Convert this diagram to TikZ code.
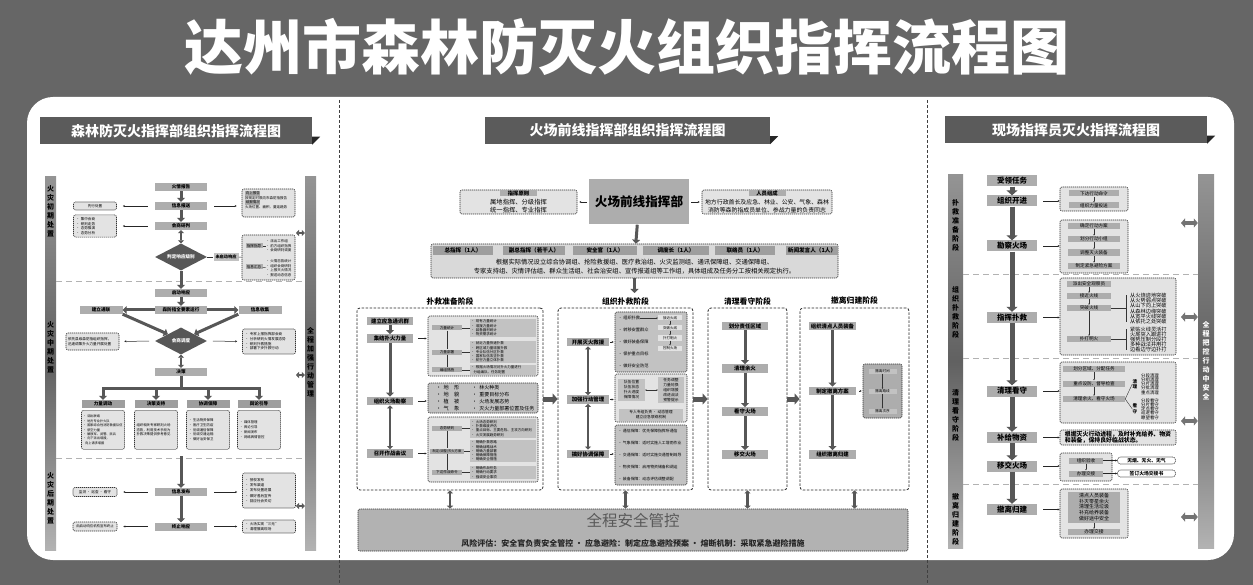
\documentclass[tikz,border=0pt]{standalone}
\usepackage{fontspec}
\setmainfont{Noto Sans CJK SC}
\usetikzlibrary{arrows.meta,shapes.geometric,positioning}
\newcommand{\fsz}[2]{\fontsize{#1}{#2}\selectfont}
\setlength{\fboxsep}{0.6pt}
\definecolor{bgdark}{HTML}{666666}
\definecolor{banner}{HTML}{5B5B5B}
\definecolor{boxgray}{HTML}{ADADAD}
\definecolor{darkbox}{HTML}{575757}
\definecolor{paleb}{HTML}{E3E3E3}
\definecolor{midb}{HTML}{C2C2C2}
\definecolor{arrowc}{HTML}{575757}

\begin{document}
\begin{tikzpicture}[x=1pt, y=-1pt,
  every node/.style={inner sep=0pt, align=center},
  band/.style={fill=banner, text=white, font=\fsz{14}{14}\bfseries, minimum height=27},
  vbar/.style={top color=black!42, bottom color=black!30, middle color=black!62},
  vtext/.style={font=\fsz{7}{9}\bfseries, text width=8},
  stepbox/.style={fill=boxgray, font=\fsz{4.6}{5}\bfseries, minimum width=52, minimum height=8},
  phasebox/.style={fill=boxgray, font=\fsz{5.4}{6}\bfseries, minimum width=46, minimum height=8.5},
  bigstep/.style={fill=boxgray, font=\fsz{7.5}{8}\bfseries, minimum width=50, minimum height=11},
  choice/.style={diamond, aspect=2, fill=darkbox, text=white, font=\fsz{4.6}{5}\bfseries, minimum width=52, minimum height=27},
  notebox/.style={draw=black!80, dash pattern=on 1.2pt off 0.8pt, line width=0.6, rounded corners=2, fill=paleb},
  stageframe/.style={draw=black!85, dash pattern=on 2.5pt off 1.5pt, line width=0.8, rounded corners=3},
  tag/.style={fill=boxgray, font=\fsz{3.6}{4}, minimum height=5},
  items/.style={fill=midb, font=\fsz{3.5}{4.3}, align=left, inner sep=1},
  lst/.style={font=\fsz{3.5}{4.6}, align=left},
  divider/.style={draw=black!30, dash pattern=on 6pt off 4pt, line width=1},
  fat/.style={draw=arrowc, line width=3, -{Triangle[length=4pt,width=8pt]}},
  bigfat/.style={draw=arrowc, line width=5, -{Triangle[length=5pt,width=11pt]}},
  duo/.style={draw=arrowc, line width=2.2, {Triangle[length=3pt,width=6pt]}-{Triangle[length=3pt,width=6pt]}},
  pointer/.style={draw=black!85, line width=0.5, -{Stealth[length=2pt,width=2pt]}},
  mini/.style={draw=black!80, line width=0.35, -{Stealth[length=1.4pt,width=1.4pt]}},
  link/.style={draw=black!80, line width=0.4}]
  \useasboundingbox (0,0) rectangle (1253,585);
  \fill[bgdark] (0,0) rectangle (1253,585);
  \fill[white, rounded corners=26] (27,97) rectangle (1234,560);
  \node[text=white, font=\fsz{59}{60}\bfseries] (title) at (627,47) {达州市森林防灭火组织指挥流程图};
  \draw[black!75, dash pattern=on 3pt off 2pt, line width=0.8] (339,100) -- (339,585);
  \draw[black!75, dash pattern=on 3pt off 2pt, line width=0.8] (927,100) -- (927,585);

  % left panel
  \node[band, minimum width=272] (hl) at (176,131) {森林防灭火指挥部组织指挥流程图};
  \fill[black!85] (hl.south east) -- ++(0,-8) -- ++(8,0) -- cycle;
  \node[vbar, minimum width=11, minimum height=373] (lbl) at (50.5,363.5) {};
  \node[vbar, minimum width=11, minimum height=373] (lbr) at (310.5,363.5) {};
  \node[vtext] (lt1) at (lbl |- 0,211) {火\\灾\\初\\期\\处\\置};
  \node[vtext] (lt2) at (lbl |- 0,347) {火\\灾\\中\\期\\处\\置};
  \node[vtext] (lt3) at (lbl |- 0,498) {火\\灾\\后\\期\\处\\置};
  \node[vtext] (lt4) at (lbr |- 0,362) {全\\程\\加\\强\\行\\动\\管\\理};
  \draw[divider] (lbl.east |- 0,282) -- (lbr.west |- 0,282);
  \draw[divider] (lbl.east |- 0,458) -- (lbr.west |- 0,458);

  \node[stepbox] (hqbg) at (181,187) {火情报告};
  \node[stepbox] (xxbs) at (181,206) {信息报送};
  \node[stepbox] (hsyp) at (181,226) {会商研判};
  \node[choice] (pdjb) at (181,257) {判定响应级别};
  \node[stepbox, fill=midb, minimum width=25, font=\fsz{4.2}{5}\bfseries] (wqd) at (226,257) {未启动响应};
  \draw[fat] (hqbg) -- (xxbs);
  \draw[fat] (xxbs) -- (hsyp);
  \draw[duo] (hsyp) -- (pdjb);
  \draw[link] (pdjb) -- (wqd);
  \node[notebox, minimum width=43, minimum height=8, font=\fsz{3.6}{4}] (xxcz) at (95,206) {先行处置};
  \node[notebox, text width=38, inner sep=2.5, minimum height=22, font=\fsz{3.6}{4.6}, align=left] (jzhs) at (95,226) {• 集中会商\\• 研判走势\\• 态势推演\\• 态势分析};
  \draw[pointer, shorten <=7, shorten >=6] (xxbs) -- (xxcz);
  \draw[pointer, shorten <=7, shorten >=6] (hsyp) -- (jzhs);
  \node[notebox, minimum width=53, minimum height=28] (sbbg) at (268.5,203) {};
  \node[lst, anchor=north west] (sbtx) at (245,191) {\colorbox{boxgray}{向上报告}\\按规定时限向市森防指报告\\\colorbox{boxgray}{续报情况}\\火场位置、面积、蔓延趋势};
  \draw[pointer, shorten <=7, shorten >=5] (xxbs.east) -- (xxbs.east -| sbbg.west);
  \node[notebox, minimum width=53, minimum height=45] (zdxx) at (268.5,257.5) {};
  \node[tag, minimum width=17] (zdt1) at (254,246) {指挥指导};
  \node[tag, minimum width=17] (zdt2) at (254,267) {信息汇总};
  \node[lst, anchor=west] (zdl1) at (266,246) {• 派出工作组\\• 前方组织指挥\\• 会商研判调度};
  \node[lst, anchor=west] (zdl2) at (266,268) {• 火情态势统计\\• 组织会商研判\\• 上报灭火情况\\• 报送动态信息};
  \draw[link] (zdt1) -- (zdl1);
  \draw[link] (zdt2) -- (zdl2);
  \draw[link] (wqd) -- (zdxx);

  \node[stepbox] (qdxy) at (181,293) {启动响应};
  \node[stepbox] (qysx) at (181,310) {森防指全要素运行};
  \node[stepbox, minimum width=43] (jltl) at (101,310) {建立通联};
  \node[stepbox, minimum width=43] (xxsj) at (260,310) {信息收集};
  \node[choice] (hsdd) at (181,341) {会商调度};
  \node[stepbox] (juece) at (181,372) {决策};
  \draw[fat] (pdjb) -- (qdxy);
  \draw[fat] (qdxy) -- (qysx);
  \draw[fat] (qysx) -- (jltl);
  \draw[fat] (qysx) -- (xxsj);
  \draw[fat] (jltl.south east) -- (hsdd.north west);
  \draw[fat] (xxsj.south west) -- (hsdd.north east);
  \draw[duo] (hsdd) -- (juece);
  \node[notebox, text width=49, inner sep=2, minimum height=17, font=\fsz{3.6}{4.6}, align=left] (ytxj) at (92.5,341.5) {依托县级森防指组织指挥，\\迅速调集扑火力量开展处置};
  \node[notebox, text width=48, inner sep=2.5, minimum height=25, font=\fsz{3.6}{4.6}, align=left] (fxyp) at (269,341.5) {• 专家上报指挥部会商\\• 分析研判火情发展态势\\• 研判扑救措施\\• 部署下步扑救行动};
  \draw[pointer, shorten <=6, shorten >=5] (hsdd) -- (ytxj);
  \draw[pointer, shorten <=6, shorten >=5] (hsdd) -- (fxyp);

  \coordinate (fz) at (181,388);
  \node[stepbox, minimum width=43, fill=black!38] (lldd) at (103,404) {力量调动};
  \node[stepbox, minimum width=43, fill=black!38] (jczc) at (156,404) {决策支持};
  \node[stepbox, minimum width=43, fill=black!38] (xtbz) at (208,404) {协调保障};
  \node[stepbox, minimum width=43, fill=black!38] (yldx) at (259,404) {舆论引导};
  \draw[arrowc, line width=3] (juece) -- (fz);
  \draw[arrowc, line width=3, line cap=rect] (fz -| lldd) -- (fz -| yldx);
  \foreach \n in {lldd,jczc,xtbz,yldx} \draw[fat] (fz -| \n) -- (\n);
  \node[notebox, text width=40, inner sep=1.5, minimum height=39, anchor=north, font=\fsz{3.2}{4.4}, align=left] (llnt) at (103,410) {• 调出联络\\• 地方专业扑火队\\• 国家综合性消防救援队伍\\• 航空力量\\• 解放军、武警、民兵\\• 向下派出增援，\\\ \ 向上请求增援};
  \node[notebox, text width=39, inner sep=2, minimum height=39, anchor=north, font=\fsz{3.4}{4.8}, align=left] (jcnt) at (156,410) {组织相关专家研判火场\\态势，利用技术手段为\\扑救决策提供参考意见};
  \node[notebox, text width=39, inner sep=2, minimum height=39, anchor=north, font=\fsz{3.4}{4.8}, align=left] (xtnt) at (208,410) {• 生活物资保障\\• 医疗卫生防疫\\• 协调通信保障\\• 协调交通运输\\• 做好治安保卫};
  \node[notebox, text width=39, inner sep=2, minimum height=39, anchor=north, font=\fsz{3.4}{4.8}, align=left] (ylnt) at (259,410) {• 媒体管理\\• 舆论引导\\• 新闻发布\\• 网络舆情管控};

  \coordinate (hqks) at (181,456);
  \node[stepbox] (xxfb) at (181,492) {信息发布};
  \node[stepbox] (zzxy) at (181,526.5) {终止响应};
  \draw[fat] (hqks) -- (xxfb);
  \draw[fat] (xxfb) -- (zzxy);
  \node[notebox, minimum width=44, minimum height=9, font=\fsz{3.6}{4}] (jcxs) at (95,492) {监测 · 巡查 · 看守};
  \node[notebox, minimum width=44, minimum height=9, font=\fsz{3.4}{4}] (xbzz) at (95,526.5) {由启动响应机构宣布终止};
  \node[notebox, text width=48, inner sep=2.5, minimum height=35, font=\fsz{3.6}{5.2}, align=left] (fbnr) at (269,490.5) {• 授权发布\\• 发布渠道\\• 发布处置进展\\• 做好善后宣传\\• 回应社会关切};
  \node[notebox, text width=48, inner sep=2.5, minimum height=13, font=\fsz{3.6}{4.6}, align=left] (zznr) at (269,526.5) {• 火场实现“三无”\\• 清理撤离现场};
  \draw[pointer, shorten <=7, shorten >=6] (xxfb) -- (jcxs);
  \draw[pointer, shorten <=7, shorten >=5] (xxfb.east) -- (xxfb.east -| fbnr.west);
  \draw[pointer, shorten <=7, shorten >=6] (zzxy) -- (xbzz);
  \draw[pointer, shorten <=7, shorten >=5] (zzxy) -- (zznr);
  \coordinate (ld1) at (296,233);
  \coordinate (ld2) at (296,375);
  \coordinate (ld3) at (296,506);
  \foreach \c in {ld1,ld2,ld3} \draw[duo, line width=1.8] (\c) -- (lbr.west |- \c);

  % middle panel
  \node[band, minimum width=285] (hm) at (627.5,130.5) {火场前线指挥部组织指挥流程图};
  \fill[black!85] (hm.south east) -- ++(0,-8) -- ++(8,0) -- cycle;
  \node[fill=boxgray, minimum width=100, minimum height=45, font=\fsz{12.6}{13}\bfseries] (qxzh) at (639,202) {火场前线指挥部};
  \node[notebox, minimum width=117, minimum height=24] (zhyz) at (518.5,202) {};
  \node[tag, minimum width=37, minimum height=6, font=\fsz{5.3}{6}\bfseries] (zhyt) at (518.5,193.5) {指挥原则};
  \node[font=\fsz{6.3}{7.6}] (zhyn) at (518.5,206) {属地指挥、分级指挥\\统一指挥、专业指挥};
  \node[notebox, minimum width=130, minimum height=24] (ryzc) at (767,202) {};
  \node[tag, minimum width=37, minimum height=6, font=\fsz{5.3}{6}\bfseries] (ryzt) at (767,193.5) {人员组成};
  \node[font=\fsz{5.9}{7.6}] (ryzn) at (767,206) {地方行政首长及应急、林业、公安、气象、森林\\消防等森防指成员单位、参战力量的负责同志};
  \draw[pointer, shorten <=2, shorten >=2] (qxzh) -- (zhyz);
  \draw[pointer, shorten <=2, shorten >=2] (qxzh) -- (ryzc);
  \node[notebox, fill=black!15, minimum width=407, minimum height=34] (zzjg) at (634.5,261) {};
  \draw[fat] (qxzh) -- (zzjg);
  \node[stepbox, fill=black!38, font=\fsz{5.6}{6}\bfseries, minimum width=60, minimum height=9] (rz1) at (463,250.5) {总指挥（1人）};
  \node[stepbox, fill=black!38, font=\fsz{5.6}{6}\bfseries, minimum width=62, minimum height=9] (rz2) at (534,250.5) {副总指挥（若干人）};
  \node[stepbox, fill=black!38, font=\fsz{5.6}{6}\bfseries, minimum width=64, minimum height=9] (rz3) at (605,250.5) {安全官（1人）};
  \node[stepbox, fill=black!38, font=\fsz{5.6}{6}\bfseries, minimum width=66, minimum height=9] (rz4) at (676,250.5) {调度长（1人）};
  \node[stepbox, fill=black!38, font=\fsz{5.6}{6}\bfseries, minimum width=60, minimum height=9] (rz5) at (745,250.5) {联络员（1人）};
  \node[stepbox, fill=black!38, font=\fsz{5.6}{6}\bfseries, minimum width=52, minimum height=9] (rz6) at (812,250.5) {新闻发言人（1人）};
  \node[font=\fsz{6.3}{8.5}] (zzsm) at (634.5,266.5) {根据实际情况设立综合协调组、抢险救援组、医疗救治组、火灾监测组、通讯保障组、交通保障组、\\专家支持组、灾情评估组、群众生活组、社会治安组、宣传报道组等工作组，具体组成及任务分工按相关规定执行。};
  \draw[fat] (zzjg) -- (zzjg.south |- 0,293);

  \node[font=\fsz{7.8}{8}\bfseries] (jd1) at (450,301) {扑救准备阶段};
  \node[font=\fsz{7.8}{8}\bfseries] (jd2) at (625.5,301) {组织扑救阶段};
  \node[font=\fsz{7.8}{8}\bfseries] (jd3) at (747.5,301) {清理看守阶段};
  \node[font=\fsz{7.8}{8}\bfseries] (jd4) at (854.5,301) {撤离归建阶段};
  \node[stageframe, minimum width=186, minimum height=182] (pz1) at (450,399) {};
  \node[stageframe, minimum width=135, minimum height=182] (pz2) at (625.5,399) {};
  \node[stageframe, minimum width=79, minimum height=182] (pz3) at (747.5,399) {};
  \node[stageframe, minimum width=109, minimum height=182] (pz4) at (854.5,399) {};
  \draw[bigfat] (pz1) -- (pz2);
  \draw[bigfat] (pz2) -- (pz3);
  \draw[bigfat] (pz3) -- (pz4);

  \node[phasebox] (yjtx) at (390,321) {建立应急通讯群};
  \node[phasebox] (jjll) at (390,338.5) {集结扑火力量};
  \node[phasebox] (hckc) at (390,401) {组织火场勘察};
  \node[phasebox] (zzhy) at (390,453.5) {召开作战会议};
  \draw[fat] (yjtx) -- (jjll);
  \draw[fat] (jjll) -- (hckc);
  \draw[duo] (hckc) -- (zzhy);
  \node[notebox, minimum width=110, minimum height=60] (llbox) at (483,346) {};
  \node[tag, minimum width=30] (lltj) at (447,328) {力量统计};
  \node[tag, minimum width=30] (llbs) at (447,352) {力量部署};
  \node[tag, minimum width=30] (bzcs) at (447,369.8) {编组措施};
  \node[items, text width=64, anchor=west] (lltjn) at (470,328) {• 现有力量统计\\• 增援力量统计\\• 装备器材统计\\• 物资需求统计};
  \node[items, text width=64, anchor=west] (llbsn) at (470,352) {• 就近力量快速扑救\\• 跨区域力量增援扑救\\• 专业队伍分区扑救\\• 国家队伍攻坚扑救\\• 航空力量立体扑救};
  \node[items, text width=64, anchor=west] (bzcsn) at (470,369.8) {• 根据火场情况对扑火力量进行\\\ \ 分组编队、任务配置};
  \draw[link] (lltj) -- (lltjn);
  \draw[link] (llbs) -- (llbsn);
  \draw[link] (bzcs) -- (bzcsn);
  \draw[link] (lltj) -- (llbs);
  \draw[link] (llbs) -- (bzcs);
  \draw[pointer, shorten <=5, shorten >=1] (jjll.east) -- (jjll.east -| llbox.west);
  \node[notebox, fill=midb, minimum width=110, minimum height=30] (kcbox) at (483,398) {};
  \node[font=\fsz{5.2}{7}, align=left, anchor=west] (kcl) at (436,398) {•\ \ 地\quad 形\\•\ \ 地\quad 貌\\•\ \ 植\quad 被\\•\ \ 气\quad 象};
  \node[font=\fsz{5}{7}, align=left, anchor=west] (kcr) at (472,398) {•\ \ 林火种类\\•\ \ 重要目标分布\\•\ \ 火场发展态势\\•\ \ 灭火力量部署位置及任务};
  \draw[pointer, shorten <=5, shorten >=1] (hckc.east) -- (hckc.east -| kcbox.west);
  \node[notebox, minimum width=110, minimum height=65] (hybox) at (483,449.5) {};
  \node[tag, minimum width=30] (tsyp) at (447,428.5) {态势研判};
  \node[tag, minimum width=34, font=\fsz{3.3}{4}] (zdfa) at (447,451) {制定(调整)灭火方案};
  \node[tag, minimum width=30] (xdml) at (447,472.5) {下达作战命令};
  \node[items, text width=64, anchor=west] (tsypn) at (470,428.5) {• 火场态势研判\\• 扑救难度评估\\• 重点目标、主要危险、主攻方向研判\\• 火灾发展趋势研判};
  \node[items, text width=64, anchor=west] (zdfan) at (470,451) {• 明确扑救思路\\• 明确战略战术\\• 明确力量部署\\• 明确保障措施\\• 明确安全措施};
  \node[items, text width=64, anchor=west] (xdmln) at (470,472.5) {• 明确作战任务\\• 明确行动要求\\• 强调安全事项};
  \draw[link] (tsyp) -- (tsypn);
  \draw[link] (zdfa) -- (zdfan);
  \draw[link] (xdml) -- (xdmln);
  \draw[link] (tsyp) -- (zdfa);
  \draw[link] (zdfa) -- (xdml);
  \draw[pointer, shorten <=5, shorten >=1] (zzhy.east) -- (zzhy.east -| hybox.west);

  \node[phasebox, minimum width=42] (kzjy) at (588,342) {开展灭火救援};
  \node[phasebox, minimum width=42] (jxgl) at (588,399.5) {加强行动管理};
  \node[phasebox, minimum width=42] (xtbzh) at (588,454) {搞好协调保障};
  \draw[duo] (kzjy) -- (jxgl);
  \draw[duo] (jxgl) -- (xtbzh);
  \node[notebox, fill=midb, minimum width=72, minimum height=60] (jybox) at (651,342) {};
  \node[font=\fsz{4.2}{11.8}, align=left, anchor=west] (jyl) at (618,342) {•\ 组织扑救\\•\ 转移安置群众\\•\ 做好装备保障\\•\ 保护重点目标\\•\ 做好安全防范};
  \node[tag, fill=paleb, minimum width=24, font=\fsz{3.5}{4}] (jx1) at (670,318) {接近火线};
  \node[tag, fill=paleb, minimum width=24, font=\fsz{3.5}{4}] (jx2) at (670,328) {突破火线};
  \node[tag, fill=paleb, minimum width=24, font=\fsz{3.5}{4}] (jx3) at (670,338) {扑打明火};
  \node[tag, fill=paleb, minimum width=24, font=\fsz{3.5}{4}] (jx4) at (670,348) {控制火场};
  \coordinate (zzpj) at (640,318);
  \draw[mini] (zzpj) -- (jx1);
  \draw[mini] (jx1) -- (jx2);
  \draw[mini] (jx2) -- (jx3);
  \draw[mini] (jx3) -- (jx4);
  \node[notebox, minimum width=72, minimum height=48] (glbox) at (651,398) {};
  \node[items, font=\fsz{3.8}{5}, minimum width=27, minimum height=22, align=center] (glzt) at (631.5,390) {队伍位置\\队伍状态\\扑火进度\\保障情况};
  \node[items, font=\fsz{3.8}{5}, minimum width=26, minimum height=26, align=center] (gltz) at (671,390) {任务调整\\力量轮换\\组织增援\\改进战法\\预警提示};
  \draw[mini, {Stealth[length=1.4pt,width=1.4pt]}-{Stealth[length=1.4pt,width=1.4pt]}] (glzt) -- (gltz);
  \node[items, font=\fsz{3.8}{5}, minimum width=64, minimum height=12, align=center] (glzr) at (651,414.5) {专人专组负责 · 动态管理\\建立应急联络机制};
  \node[notebox, fill=midb, minimum width=72, minimum height=60] (bzbox) at (651,455) {};
  \node[font=\fsz{3.9}{11.8}, align=left, anchor=west] (bzl) at (618,455) {•\ 通信保障：优先保障指挥所通信\\•\ 气象保障：适时实施人工增雨作业\\•\ 交通保障：适时实施交通管制疏导\\•\ 物资保障：启用物资储备和调运\\•\ 装备保障：动态评估调整调配};
  \draw[pointer, shorten <=1, shorten >=1] (kzjy.east) -- (kzjy.east -| jybox.west);
  \draw[pointer, shorten <=1, shorten >=1] (jxgl.east) -- (jxgl.east -| glbox.west);
  \draw[pointer, shorten <=1, shorten >=1] (xtbzh.east) -- (xtbzh.east -| bzbox.west);

  \node[phasebox] (hfzr) at (745,326) {划分责任区域};
  \node[phasebox] (qlyh) at (745,368.5) {清理余火};
  \node[phasebox] (kshc) at (745,411.5) {看守火场};
  \node[phasebox] (yjhc) at (745,454.5) {移交火场};
  \draw[fat] (hfzr) -- (qlyh);
  \draw[fat] (qlyh) -- (kshc);
  \draw[fat] (kshc) -- (yjhc);
  \node[phasebox, minimum width=47] (qdry) at (832.5,326) {组织清点人员装备};
  \node[phasebox, minimum width=47] (zdcl) at (832.5,391) {制定撤离方案};
  \node[phasebox, minimum width=47] (zzcl) at (832.5,454.5) {组织撤离归建};
  \draw[fat] (qdry) -- (zdcl);
  \draw[fat] (zdcl) -- (zzcl);
  \node[notebox, fill=boxgray, minimum width=39, minimum height=54] (clbox) at (882.5,391) {};
  \node[tag, fill=midb, minimum width=28, font=\fsz{3.6}{4}] (clsj) at (882.5,371) {撤离时间};
  \node[tag, fill=midb, minimum width=28, font=\fsz{3.6}{4}] (cllx) at (882.5,391.5) {撤离路线};
  \node[tag, fill=midb, minimum width=28, font=\fsz{3.6}{4}] (clcx) at (882.5,411) {撤离次序};
  \draw[mini] (clsj) -- (cllx);
  \draw[mini] (cllx) -- (clcx);
  \draw[pointer, shorten <=3, shorten >=1] (zdcl.east) -- (zdcl.east -| clbox.west);

  \node[notebox, fill=black!30, minimum width=550, minimum height=42] (aqgk) at (633,530) {};
  \node[text=black!65, font=\fsz{15.5}{16}] (aqt) at (633,521) {全程安全管控};
  \node[font=\fsz{8}{8}\bfseries, text=black!85] (aqs) at (633,543) {风险评估：安全官负责安全管控 · 应急避险：制定应急避险预案 · 熔断机制：采取紧急避险措施};
  \foreach \p in {pz1,pz2,pz3,pz4} \draw[duo] (\p.south) -- (\p.south |- aqgk.north);

  % right panel
  \node[band, minimum width=262] (hr) at (1076,130) {现场指挥员灭火指挥流程图};
  \fill[black!85] (hr.south east) -- ++(0,-8) -- ++(8,0) -- cycle;
  \node[vbar, minimum width=15, minimum height=373] (rbl) at (955.5,361.5) {};
  \node[vbar, minimum width=16, minimum height=373] (rbr) at (1206,361.5) {};
  \node[vtext] (rt1) at (rbl |- 0,225) {扑\\救\\准\\备\\阶\\段};
  \node[vtext] (rt2) at (rbl |- 0,312) {组\\织\\扑\\救\\阶\\段};
  \node[vtext] (rt3) at (rbl |- 0,415) {清\\理\\看\\守\\阶\\段};
  \node[vtext] (rt4) at (rbl |- 0,519) {撤\\离\\归\\建\\阶\\段};
  \node[vtext, text=white] (rt5) at (rbr |- 0,361) {全\\程\\把\\控\\行\\动\\中\\安\\全};
  \draw[divider] (rbl.east |- 0,275) -- (rbr.west |- 0,275);
  \draw[divider] (rbl.east |- 0,358) -- (rbr.west |- 0,358);
  \draw[divider] (rbl.east |- 0,484) -- (rbr.west |- 0,484);
  \coordinate (rd1) at (1181,223);
  \coordinate (rd2) at (1181,317);
  \coordinate (rd3) at (1181,421);
  \coordinate (rd4) at (1181,517);
  \foreach \c in {rd1,rd2,rd3,rd4} \draw[duo, draw=black!55, line width=3.5, {Triangle[length=4pt,width=9pt]}-{Triangle[length=4pt,width=9pt]}] (\c) -- (rbr.west |- \c);

  \node[bigstep] (slrw) at (1012,181) {受领任务};
  \node[bigstep] (zzkj) at (1012,201) {组织开进};
  \node[bigstep] (kchc) at (1012,246) {勘察火场};
  \node[bigstep] (zhpj) at (1012,317.5) {指挥扑救};
  \node[bigstep] (qlks) at (1012,391) {清理看守};
  \node[bigstep] (bgwz) at (1012,437.5) {补给物资};
  \node[bigstep] (yjhcr) at (1012,466) {移交火场};
  \node[bigstep] (clgj) at (1012,509.5) {撤离归建};
  \draw[bigfat] (slrw) -- (zzkj);
  \draw[bigfat] (zzkj) -- (kchc);
  \draw[bigfat] (kchc) -- (zhpj);
  \draw[bigfat] (zhpj) -- (qlks);
  \draw[bigfat] (qlks) -- (bgwz);
  \draw[bigfat] (bgwz) -- (yjhcr);
  \draw[bigfat] (yjhcr) -- (clgj);

  \node[notebox, minimum width=68, minimum height=24] (kjbox) at (1094,199) {};
  \node[tag, minimum width=50, minimum height=6, font=\fsz{4.6}{5}] (xdxd) at (1094,193.5) {下达行动命令};
  \node[tag, minimum width=50, minimum height=6, font=\fsz{4.6}{5}] (zzts) at (1094,205.5) {组织力量投送};
  \draw[mini] (xdxd) -- (zzts);
  \node[notebox, minimum width=68, minimum height=53] (kcbx) at (1094,246.5) {};
  \node[tag, minimum width=52, minimum height=6.5, font=\fsz{4.6}{5}] (qdfa) at (1094,226) {确定行动方案};
  \node[tag, minimum width=52, minimum height=6.5, font=\fsz{4.6}{5}] (hfxz) at (1094,239) {划分行动小组};
  \node[tag, minimum width=52, minimum height=6.5, font=\fsz{4.6}{5}] (tzzb) at (1094,252.5) {调整灭火装备};
  \node[tag, minimum width=52, minimum height=6.5, font=\fsz{4.6}{5}] (bxfa) at (1094,266) {制定紧急避险方案};
  \draw[mini] (qdfa) -- (hfxz);
  \draw[mini] (hfxz) -- (tzzb);
  \draw[mini] (tzzb) -- (bxfa);
  \draw[pointer, shorten <=6] (zzkj.east) -- (zzkj.east -| kjbox.west);
  \draw[pointer, shorten <=6] (kchc.east) -- (kchc.east -| kcbx.west);

  \node[notebox, minimum width=116, minimum height=77] (pjbox) at (1118,316.5) {};
  \node[tag, minimum width=44, minimum height=6, font=\fsz{4.6}{5}] (aqgc) at (1089,284) {派出安全观察员};
  \node[tag, minimum width=44, minimum height=6, font=\fsz{4.6}{5}] (jjhx) at (1089,296) {接近火线};
  \node[tag, minimum width=44, minimum height=6, font=\fsz{4.6}{5}] (tphx) at (1089,308) {突破火线};
  \node[tag, minimum width=44, minimum height=6, font=\fsz{4.6}{5}] (pdmh) at (1089,339) {扑打明火};
  \draw[mini] (aqgc) -- (jjhx);
  \draw[mini] (jjhx) -- (tphx);
  \draw[mini] (tphx) -- (pdmh);
  \node[font=\fsz{5.2}{5.2}, align=left, anchor=west] (tpfs) at (1130,308.5) {从火烧迹地突破\\从火势弱点突破\\从山下向上突破\\从森林边缘突破\\从宽平火线突破\\从依托之处突破};
  \node[font=\fsz{5.2}{5.2}, align=left, anchor=west] (pdfs) at (1130,339.5) {紧贴火线灵活打\\火尾突入跟进打\\强势压制分段打\\多种战法并用打\\边看边守边扑打};
  \draw[link] (tphx.east) -- ++(15,0) coordinate (tpk);
  \draw[link, shorten <=2.6, shorten >=2.6] (tpk |- tpfs.north) -- (tpk |- tpfs.south);
  \draw[link] (pdmh.east) -- ++(15,0) coordinate (pdk);
  \draw[link, shorten <=2.6, shorten >=2.6] (pdk |- pdfs.north) -- (pdk |- pdfs.south);
  \draw[pointer, shorten <=6] (zhpj.east) -- (zhpj.east -| pjbox.west);

  \node[notebox, minimum width=116, minimum height=61] (ksbox) at (1118,392.5) {};
  \node[tag, minimum width=62, minimum height=6, font=\fsz{4.6}{5}] (hfqy) at (1094,369) {划分区域、分配任务};
  \node[tag, minimum width=62, minimum height=6, font=\fsz{4.6}{5}] (zdsf) at (1094,383.5) {重点设防、督导检查};
  \node[tag, minimum width=62, minimum height=6, font=\fsz{4.6}{5}] (qlkh) at (1094,399) {清理余火、看守火场};
  \draw[mini] (hfqy) -- (zdsf);
  \draw[mini] (zdsf) -- (qlkh);
  \node[font=\fsz{4.6}{5.6}\bfseries, text width=5] (qlzi) at (1135,384) {清\\理};
  \node[font=\fsz{4.6}{5.6}\bfseries, text width=5] (kszi) at (1135,409) {看\\守};
  \node[font=\fsz{4.4}{4.3}, align=left, anchor=west] (qlfs) at (1141,384) {分段清理\\分组清理\\分片清理\\分批清理\\重点清理};
  \node[font=\fsz{4.4}{4.3}, align=left, anchor=west] (ksfs) at (1141,409) {分段看守\\分片看守\\定点看守\\巡逻看守\\瞭望看守};
  \draw[link] (qlkh.east) -- (qlzi.west);
  \draw[link] (qlkh.east) -- (kszi.west);
  \draw[pointer, shorten <=6] (qlks.east) -- (qlks.east -| ksbox.west);

  \node[notebox, minimum width=116, minimum height=15, font=\fsz{5.9}{6.6}\bfseries, align=left] (bgnr) at (1118,437.5) {根据灭火行动进程，及时补充给养、物资\\和装备，保持良好临战状态。};
  \draw[pointer, shorten <=6] (bgwz.east) -- (bgwz.east -| bgnr.west);

  \node[notebox, minimum width=52, minimum height=28] (yjbox) at (1086,467) {};
  \node[tag, minimum width=34, minimum height=6, font=\fsz{4.6}{5}] (zzys) at (1086,460.5) {组织验收};
  \node[tag, minimum width=34, minimum height=6, font=\fsz{4.6}{5}] (bljj) at (1086,473.5) {办理交接};
  \draw[mini] (zzys) -- (bljj);
  \node[notebox, fill=white, rounded corners=3, minimum width=58, minimum height=7, font=\fsz{4.8}{5}\bfseries] (swbz) at (1146.5,460.5) {无烟、无火、无气};
  \node[notebox, fill=white, rounded corners=3, minimum width=58, minimum height=7, font=\fsz{4.8}{5}\bfseries] (jjs) at (1146.5,473.5) {签订火场交接书};
  \draw[pointer] (zzys) -- (swbz);
  \draw[pointer] (bljj) -- (jjs);
  \draw[pointer, shorten <=6] (yjhcr.east) -- (yjhcr.east -| yjbox.west);

  \node[notebox, minimum width=68, minimum height=49] (gjbox) at (1094,513.5) {};
  \node[tag, minimum width=52, minimum height=31, font=\fsz{5}{5.8}] (gjnr) at (1094,507) {清点人员装备\\扑灭零星余火\\清理生活垃圾\\补充给养装备\\做好途中安全};
  \node[tag, minimum width=52, minimum height=6, font=\fsz{4.8}{5}] (gjjj) at (1094,532) {办理交接};
  \draw[mini] (gjnr) -- (gjjj);
  \draw[pointer, shorten <=6] (clgj.east) -- (clgj.east -| gjbox.west);
\end{tikzpicture}
\end{document}
